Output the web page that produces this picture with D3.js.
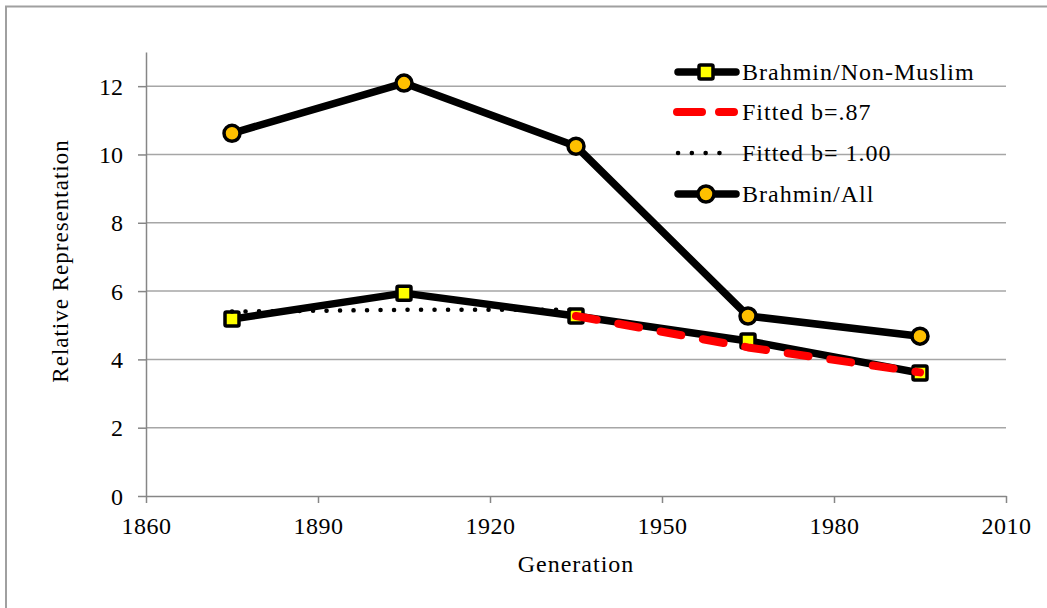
<!DOCTYPE html>
<html>
<head>
<meta charset="utf-8">
<script src="https://cdn.jsdelivr.net/npm/d3@7"></script>
<style>
  body { margin: 0; background: #fff; }
  svg text { font-family: 'Liberation Serif', 'Times New Roman', Times, 'DejaVu Serif', serif; fill: #000; }
</style>
</head>
<body>
<div id="chart"></div>
<script>
// data
const generations = [1875, 1905, 1935, 1965, 1995]
const brahminNonMuslim = [5.18, 5.94, 5.27, 4.54, 3.60]
const fitted87 = [null, null, 5.27, 4.35, 3.62]
const fitted100 = [5.40, 5.45, 5.45, null, null]
const brahminAll = [10.62, 12.09, 10.24, 5.27, 4.68]

const xTicks = [1860, 1890, 1920, 1950, 1980, 2010]
const yTicks = [0, 2, 4, 6, 8, 10, 12]
const legendNames = ['Brahmin/Non-Muslim', 'Fitted b=.87', 'Fitted b= 1.00', 'Brahmin/All']

const width = 1047, height = 608
const plot = {left: 146, right: 1006, top: 52, bottom: 496}
const serif = "'Liberation Serif', 'Times New Roman', Times, 'DejaVu Serif', serif"

const svg = d3.select('#chart').append('svg')
  .attr('width', width)
  .attr('height', height)
  .attr('font-family', serif)

// outer frame, runs off the right and bottom of the picture
svg.append('rect')
  .attr('x', 6).attr('y', 6.5)
  .attr('width', 1100).attr('height', 700)
  .attr('fill', 'none')
  .attr('stroke', '#a0a0a0')
  .attr('stroke-width', 2)

const x = d3.scaleLinear().domain([1860, 2010]).range([plot.left, plot.right])
const y = d3.scaleLinear().domain([0, 13]).range([plot.bottom, plot.top])

// gridlines
svg.append('g')
  .selectAll('line')
  .data(yTicks.filter(d => d > 0))
  .enter()
  .append('line')
  .attr('x1', plot.left).attr('x2', plot.right)
  .attr('y1', d => y(d)).attr('y2', d => y(d))
  .attr('stroke', '#a6a6a6')
  .attr('stroke-width', 1.5)

const axisColor = '#868686'

const yAxis = svg.append('g')
  .attr('transform', `translate(${plot.left},0)`)
  .call(d3.axisLeft(y).tickValues(yTicks).tickSize(8).tickPadding(15).tickSizeOuter(0))
yAxis.attr('font-family', serif).attr('font-size', 24)
yAxis.select('.domain').attr('stroke', axisColor).attr('stroke-width', 1.5)
yAxis.selectAll('.tick line').attr('stroke', axisColor).attr('stroke-width', 1.5)
yAxis.selectAll('.tick text').attr('dy', '0.34em')

const xAxis = svg.append('g')
  .attr('transform', `translate(0,${plot.bottom})`)
  .call(d3.axisBottom(x).tickValues(xTicks).tickFormat(d3.format('d')).tickSize(7).tickPadding(14).tickSizeOuter(0))
xAxis.attr('font-family', serif).attr('font-size', 24)
xAxis.select('.domain').attr('stroke', axisColor).attr('stroke-width', 1.5)
xAxis.selectAll('.tick line').attr('stroke', axisColor).attr('stroke-width', 1.5)
xAxis.selectAll('.tick text')
  .style('letter-spacing', '0.5px')
  .attr('dy', '0.71em')

// axis titles
svg.append('text')
  .attr('x', 576).attr('y', 572)
  .attr('text-anchor', 'middle')
  .style('font-size', '24px')
  .style('letter-spacing', '1px')
  .text('Generation')

svg.append('text')
  .attr('transform', 'translate(68,261) rotate(-90)')
  .attr('text-anchor', 'middle')
  .style('font-size', '23px')
  .style('letter-spacing', '1px')
  .text('Relative Representation')

// series
const line = d3.line()
  .defined(d => d[1] != null)
  .x(d => x(d[0]))
  .y(d => y(d[1]))

const pairs = vals => generations.map((g, i) => [g, vals[i]])

const series = [
  {name: legendNames[0], vals: brahminNonMuslim, stroke: '#000', width: 7.5, dash: null, marker: 'square'},
  {name: legendNames[1], vals: fitted87, stroke: '#ff0000', width: 8, dash: '21 22', marker: null},
  {name: legendNames[2], vals: fitted100, stroke: '#000', width: 4.5, dash: '0.1 13.4', marker: null},
  {name: legendNames[3], vals: brahminAll, stroke: '#000', width: 7.5, dash: null, marker: 'circle'}
]

function drawMarker(g, type, cx, cy) {
  if (type === 'square') {
    g.append('rect')
      .attr('x', cx - 7).attr('y', cy - 7)
      .attr('width', 14).attr('height', 14)
      .attr('rx', 1.5)
      .attr('fill', '#ffff00')
      .attr('stroke', '#000')
      .attr('stroke-width', 3.5)
  } else if (type === 'circle') {
    g.append('circle')
      .attr('cx', cx).attr('cy', cy)
      .attr('r', 8)
      .attr('fill', '#ffc000')
      .attr('stroke', '#000')
      .attr('stroke-width', 3.5)
  }
}

series.forEach(s => {
  const g = svg.append('g')
  g.append('path')
    .datum(pairs(s.vals))
    .attr('d', line)
    .attr('fill', 'none')
    .attr('stroke', s.stroke)
    .attr('stroke-width', s.width)
    .attr('stroke-linejoin', 'round')
    .attr('stroke-linecap', s.dash ? 'round' : 'butt')
    .attr('stroke-dasharray', s.dash)
  if (s.marker) {
    pairs(s.vals).filter(d => d[1] != null).forEach(d => drawMarker(g, s.marker, x(d[0]), y(d[1])))
  }
})

// legend
const legendRows = [72, 112, 153, 194]
const legend = svg.append('g')
series.forEach((s, i) => {
  const ly = legendRows[i]
  const g = legend.append('g')
  if (s.dash && s.stroke === '#ff0000') {
    g.append('line')
      .attr('x1', 677).attr('x2', 734).attr('y1', ly).attr('y2', ly)
      .attr('stroke', s.stroke).attr('stroke-width', s.width)
      .attr('stroke-linecap', 'round')
      .attr('stroke-dasharray', '25 17')
  } else if (s.dash) {
    g.append('line')
      .attr('x1', 678).attr('x2', 733).attr('y1', ly).attr('y2', ly)
      .attr('stroke', s.stroke).attr('stroke-width', s.width)
      .attr('stroke-linecap', 'round')
      .attr('stroke-dasharray', '0.1 13.7')
  } else {
    g.append('line')
      .attr('x1', 678).attr('x2', 736).attr('y1', ly).attr('y2', ly)
      .attr('stroke', s.stroke).attr('stroke-width', s.width)
      .attr('stroke-linecap', 'round')
    drawMarker(g, s.marker, 706, ly)
  }
  g.append('text')
    .attr('x', 742).attr('y', ly + 8)
    .style('font-size', '24px')
    .style('letter-spacing', '1px')
    .text(s.name)
})
</script>
</body>
</html>
